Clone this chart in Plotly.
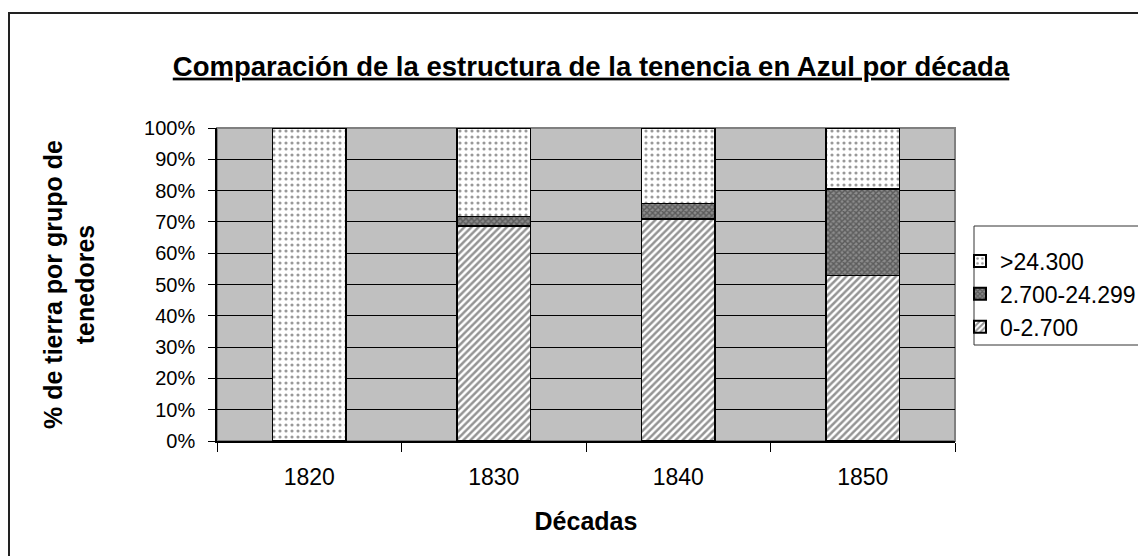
import plotly.graph_objects as go

decades = ["1820", "1830", "1840", "1850"]
small = [0.0, 68.7, 70.9, 52.8]        # 0-2.700
medium = [0.0, 3.0, 5.0, 27.7]         # 2.700-24.299
large = [100.0, 28.3, 24.1, 19.5]      # >24.300
series_names = ["0-2.700", "2.700-24.299", ">24.300"]
y_ticks = list(range(0, 101, 10))
y_labels = [f"{v}%" for v in y_ticks]

FONT = "Liberation Sans, Arial, sans-serif"

# figure-pixel layout of the plot area (page is offset by the 8px body margin)
L, R, T, B = 209, 947, 120, 433
W, H = 1146, 556
pw, ph = R - L, B - T


def px(xf):
    return (xf - L) / pw


def py(yf):
    return (B - yf) / ph


fig = go.Figure()
styles = [
    dict(shape="/", bgcolor="white", fgcolor="#2a2a2a", size=5, solidity=0.5),
    dict(shape="x", bgcolor="#8c8c8c", fgcolor="#2a2a2a", size=4, solidity=0.6),
    dict(shape=".", bgcolor="white", fgcolor="#333333", size=6, solidity=0.22),
]
for name, vals, pat in zip(series_names, [small, medium, large], styles):
    fig.add_trace(go.Bar(
        x=decades, y=vals, name=name, width=0.4,
        marker=dict(color=pat["bgcolor"], pattern=pat,
                    line=dict(color="black", width=1.5)),
    ))

fig.update_layout(
    barmode="stack",
    width=W, height=H,
    margin=dict(l=L, r=W - R, t=T, b=H - B, autoexpand=False),
    paper_bgcolor="white",
    plot_bgcolor="#C0C0C0",
    font=dict(family=FONT, color="black"),
    title=dict(
        text="<b><u>Comparación de la estructura de la tenencia en Azul por década</u></b>",
        font=dict(size=27.5, family=FONT, color="black"),
        x=px(583), xref="paper", xanchor="center",
        y=1 - 58 / H, yref="container", yanchor="middle",
    ),
    legend=dict(
        x=px(952), xanchor="left", y=py(286), yanchor="middle",
        traceorder="reversed",
        borderwidth=0,
        font=dict(size=23, family=FONT),
        bgcolor="rgba(0,0,0,0)",
        itemsizing="constant",
    ),
    showlegend=True,
)

fig.update_xaxes(
    type="category",
    tickson="boundaries",
    ticks="outside", ticklen=9, tickcolor="black", tickwidth=1,
    showline=True, linecolor="black", linewidth=1.5,
    showgrid=False,
    tickfont=dict(size=23, family=FONT),
    ticklabelstandoff=15,
    title=dict(text="<b>Décadas</b>", font=dict(size=25, family=FONT), standoff=23),
)
fig.update_yaxes(
    range=[0, 100],
    tickvals=y_ticks, ticktext=y_labels,
    ticks="outside", ticklen=7, tickcolor="black", tickwidth=1,
    showline=True, linecolor="black", linewidth=1.5,
    showgrid=True, gridcolor="black", gridwidth=1,
    zeroline=False,
    tickfont=dict(size=20, family=FONT),
    ticklabelstandoff=9,
    title=dict(text="<b>% de tierra por grupo de<br>tenedores</b>",
               font=dict(size=25, family=FONT), standoff=42),
)

# plot-area border (gray edges)
fig.add_shape(type="rect", xref="x domain", yref="y domain", x0=0, x1=1, y0=0, y1=1,
              line=dict(color="#808080", width=2), layer="below")
# legend box
fig.add_shape(type="rect", xref="paper", yref="paper",
              x0=px(966), x1=px(1200), y0=py(337), y1=py(218),
              line=dict(color="#333333", width=1), fillcolor="white", layer="below")
# outer chart frame
fig.add_shape(type="rect", xref="paper", yref="paper",
              x0=px(1), x1=px(1200), y0=py(600), y1=py(5),
              line=dict(color="#222222", width=2), layer="below")

fig.write_html("out.html")
